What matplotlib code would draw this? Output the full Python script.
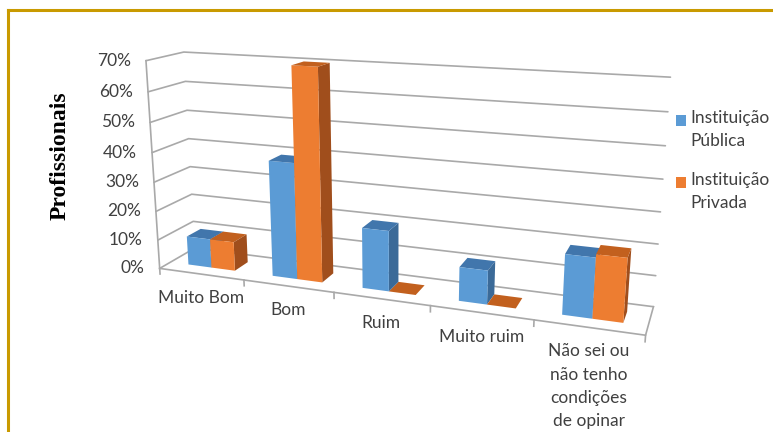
import matplotlib
matplotlib.use("Agg")
import matplotlib.pyplot as plt
from matplotlib.patches import Rectangle
from matplotlib.transforms import offset_copy
from mpl_toolkits.mplot3d.art3d import Poly3DCollection
from mpl_toolkits.mplot3d import proj3d
import numpy as np

# ---- data ----
categories = ["Muito Bom", "Bom", "Ruim", "Muito ruim",
              "Não sei ou\nnão tenho\ncondições\nde opinar"]
publica = [0.10, 0.39, 0.20, 0.11, 0.19]
privada = [0.10, 0.70, 0.00, 0.00, 0.20]
series_names = ["Instituição\nPública", "Instituição\nPrivada"]
tick_values = [0.0, 0.1, 0.2, 0.3, 0.4, 0.5, 0.6, 0.7]
tick_labels = ["0%", "10%", "20%", "30%", "40%", "50%", "60%", "70%"]

# ---- style ----
BLUE = dict(front="#5B9BD5", top="#4176AC", side="#3B6A98")
ORANGE = dict(front="#ED7D31", top="#C2601E", side="#A04E1C")
GRID = "#A9A9A9"
TEXT = "#404040"
FONT = "Lato"
FS = 12.5
W, H = 773, 432

fig = plt.figure(figsize=(W / 100, H / 100), dpi=100)
fig.patch.set_facecolor("white")

# frame
gold = "#C99A00"
fig.add_artist(plt.Line2D([8 / W, 8 / W], [0, 1 - 9.5 / H],
                          transform=fig.transFigure, color=gold, lw=2.2))
fig.add_artist(plt.Line2D([8 / W, 1], [1 - 9.5 / H, 1 - 9.5 / H],
                          transform=fig.transFigure, color=gold, lw=2.2))

S = 600  # side of the (square) 3D axes, pixels
cx, cy = 394, 180.5
ax = fig.add_axes([(cx - 0.514 * S) / W, (H - cy - 0.514 * S) / H, S / W, S / H],
                  projection="3d")
ax.set_proj_type("persp", focal_length=0.30)
ax.view_init(elev=15, azim=-70)
ax.set_box_aspect((1.02, 0.1428, 0.448), zoom=0.915)
ax.set_axis_off()
ax.patch.set_alpha(0)

n = len(categories)
xmin, xmax = -0.5, n - 0.5
ymin, ymax = 0.0, 1.0
zmin, zmax = tick_values[0], tick_values[-1]
ax.set_xlim(xmin, xmax)
ax.set_ylim(ymin, ymax)
ax.set_zlim(zmin, zmax)

# gridlines on the left and back walls
for v in tick_values:
    ax.plot([xmin, xmin, xmax], [ymin, ymax, ymax], [v, v, v],
            color=GRID, lw=1.2, solid_capstyle="round")
# front floor edge, right floor edge, vertical axis
ax.plot([xmin, xmax, xmax], [ymin, ymin, ymax], [0, 0, 0], color=GRID, lw=1.2)
ax.plot([xmin, xmin], [ymin, ymin], [zmin, zmax], color=GRID, lw=1.2)
# category boundary ticks
for b in np.arange(xmin, xmax + 0.01, 1.0):
    ax.plot([b, b], [ymin, ymin], [0, -0.02], color=GRID, lw=1.2)

# ---- bars ----
bw = 0.28
y0, y1 = 0.30, 0.70
faces, colors = [], []


def add_box(x0, x1, h, pal):
    top = [(x0, y0, h), (x1, y0, h), (x1, y1, h), (x0, y1, h)]
    faces.append(top)
    colors.append(pal["top"])
    if h > 0:
        front = [(x0, y0, 0), (x1, y0, 0), (x1, y0, h), (x0, y0, h)]
        right = [(x1, y0, 0), (x1, y1, 0), (x1, y1, h), (x1, y0, h)]
        faces.extend([front, right])
        colors.extend([pal["front"], pal["side"]])


for i in range(n):
    add_box(i - bw, i, publica[i], BLUE)
    add_box(i, i + bw, privada[i], ORANGE)

ax.add_collection3d(Poly3DCollection(faces, facecolors=colors,
                                     edgecolors="none", linewidths=0))

# ---- labels placed at projected axis positions ----
fig.canvas.draw()


def screen(x, y, z):
    xs, ys, _ = proj3d.proj_transform(x, y, z, ax.M)
    disp = ax.transData.transform((xs, ys))
    return fig.transFigure.inverted().transform(disp)


def label(pt, s, dx, dy, **kw):
    tr = offset_copy(fig.transFigure, fig=fig, x=dx, y=dy, units="dots")
    fig.text(pt[0], pt[1], s, transform=tr, color=TEXT, family=FONT,
             fontsize=FS, **kw)


for v, s in zip(tick_values, tick_labels):
    label(screen(xmin, ymin, v), s, -15, 0, ha="right", va="center")
for i, c in enumerate(categories):
    label(screen(i, ymin, 0), c, 0, -16, ha="center", va="top",
          linespacing=1.55)

fig.text(60 / W, 1 - 156 / H, "Profissionais", rotation=90,
         ha="center", va="center", fontsize=17, fontweight="bold",
         family="Liberation Serif", color="black")

# legend: square marker beside the first line of each two-line entry
for k, (name, pal) in enumerate(zip(series_names, (BLUE, ORANGE))):
    top_px = 115 + 62 * k
    fig.add_artist(Rectangle((676 / W, 1 - (top_px + 11) / H), 10 / W, 11 / H,
                             transform=fig.transFigure,
                             facecolor=pal["front"], edgecolor="none"))
    fig.text(690 / W, 1 - (top_px - 5) / H, name, ha="left", va="top",
             fontsize=FS, family=FONT, color=TEXT, linespacing=1.55)

fig.savefig("out.png", dpi=100)
